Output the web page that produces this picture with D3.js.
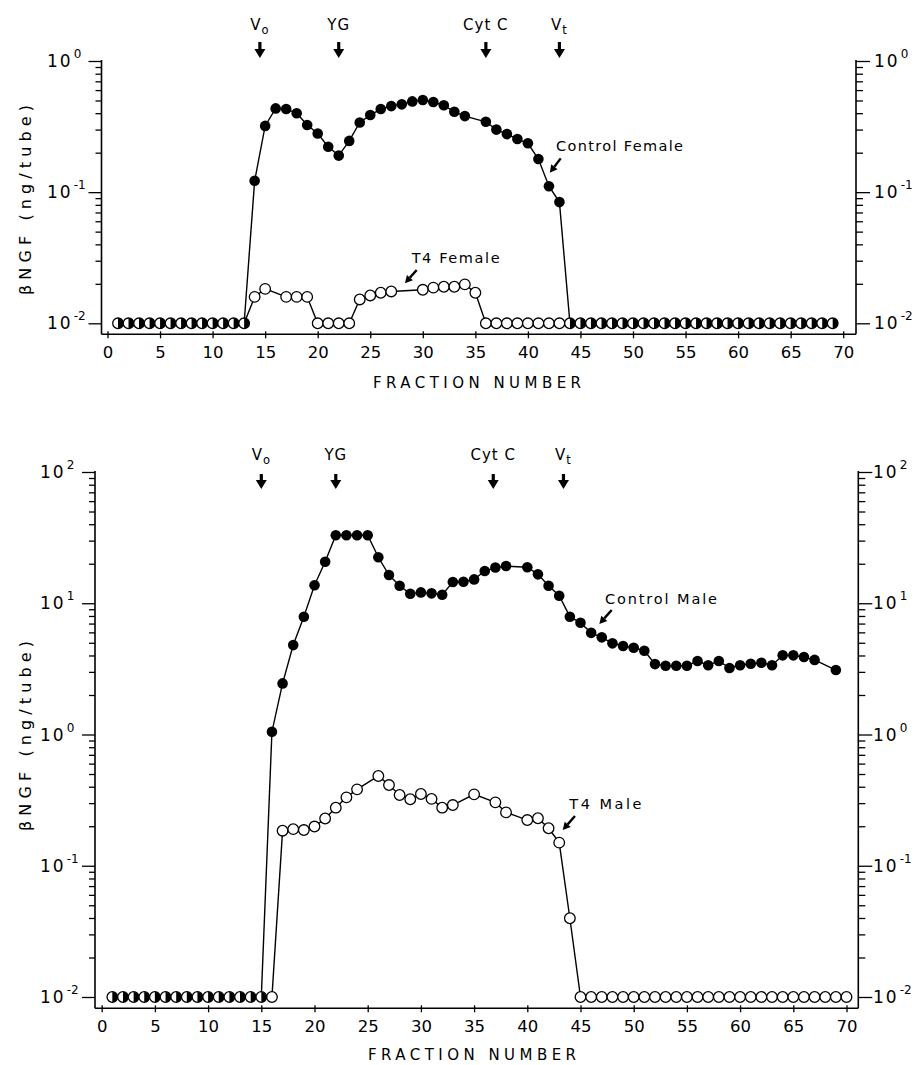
<!DOCTYPE html>
<html><head><meta charset="utf-8">
<script src="https://cdn.jsdelivr.net/npm/d3@7/dist/d3.min.js"></script>
<style>body{margin:0;background:#fff}svg{display:block}</style>
</head><body>
<svg id="c" width="923" height="1065"></svg>
<script>
// ---------------- DATA ----------------
const xTickValues = [0,5,10,15,20,25,30,35,40,45,50,55,60,65,70];

// Top panel (female)
const femaleYTicks = [0.01, 0.1, 1];
const femaleYTickExp = ["-2", "-1", "0"];
const femaleControlFractions = [1,2,3,4,5,6,7,8,9,10,11,12,13,14,15,16,17,18,19,20,21,22,23,24,25,26,27,28,29,30,31,32,33,34,36,37,38,39,40,41,42,43,44,45,46,47,48,49,50,51,52,53,54,55,56,57,58,59,60,61,62,63,64,65,66,67,68,69];
const femaleControlValues = [0.01,0.01,0.01,0.01,0.01,0.01,0.01,0.01,0.01,0.01,0.01,0.01,0.01,
  0.122,0.32,0.435,0.43,0.40,0.325,0.28,0.222,0.19,0.246,0.34,0.387,0.43,0.453,0.467,0.492,0.504,0.487,0.46,0.41,0.38,
  0.344,0.30,0.277,0.254,0.236,0.179,0.111,0.084,
  0.01,0.01,0.01,0.01,0.01,0.01,0.01,0.01,0.01,0.01,0.01,0.01,0.01,0.01,0.01,0.01,0.01,0.01,0.01,0.01,0.01,0.01,0.01,0.01,0.01,0.01];
const femaleT4Fractions = [1,2,3,4,5,6,7,8,9,10,11,12,13,14,15,17,18,19,20,21,22,23,24,25,26,27,30,31,32,33,34,35,36,37,38,39,40,41,42,43,44,45,46,47,48,49,50,51,52,53,54,55,56,57,58,59,60,61,62,63,64,65,66,67,68,69];
const femaleT4Values = [0.01,0.01,0.01,0.01,0.01,0.01,0.01,0.01,0.01,0.01,0.01,0.01,0.01,
  0.0159,0.0183,
  0.0159,0.0159,0.0159,0.01,0.01,0.01,0.01,0.0152,0.0163,0.0171,0.0175,
  0.018,0.0187,0.019,0.019,0.0198,0.0171,
  0.01,0.01,0.01,0.01,0.01,0.01,0.01,0.01,0.01,0.01,0.01,0.01,0.01,0.01,0.01,0.01,0.01,0.01,0.01,0.01,0.01,0.01,0.01,0.01,0.01,0.01,0.01,0.01,0.01,0.01,0.01,0.01,0.01,0.01];
const femaleMarkerFractions = [14.5, 22, 36, 43];

// Bottom panel (male)
const maleYTicks = [0.01, 0.1, 1, 10, 100];
const maleYTickExp = ["-2", "-1", "0", "1", "2"];
const maleControlFractions = [1,2,3,4,5,6,7,8,9,10,11,12,13,14,15,16,17,18,19,20,21,22,23,24,25,26,27,28,29,30,31,32,33,34,35,36,37,38,40,41,42,43,44,45,46,47,48,49,50,51,52,53,54,55,56,57,58,59,60,61,62,63,64,65,66,67,69];
const maleControlValues = [0.01,0.01,0.01,0.01,0.01,0.01,0.01,0.01,0.01,0.01,0.01,0.01,0.01,0.01,0.01,
  1.05,2.45,4.8,7.9,13.7,20.7,33,33,33,33,
  22.4,16.4,13.6,11.8,12.1,11.9,11.6,14.5,14.6,15.2,
  17.6,18.7,19.2,
  18.8,16.6,13.6,11.4,7.9,7.1,5.95,5.5,4.95,4.72,4.58,4.35,
  3.44,3.34,3.34,3.34,3.63,3.37,3.63,3.21,3.37,3.46,3.52,3.37,
  4.01,4.01,3.89,3.70,
  3.10];
const maleT4Fractions = [1,2,3,4,5,6,7,8,9,10,11,12,13,14,15,16,17,18,19,20,21,22,23,24,26,27,28,29,30,31,32,33,35,37,38,40,41,42,43,44,45,46,47,48,49,50,51,52,53,54,55,56,57,58,59,60,61,62,63,64,65,66,67,68,69,70];
const maleT4Values = [0.01,0.01,0.01,0.01,0.01,0.01,0.01,0.01,0.01,0.01,0.01,0.01,0.01,0.01,0.01,0.01,
  0.185,0.19,0.187,0.199,0.229,0.277,0.332,0.382,
  0.483,0.412,0.346,0.321,0.352,0.323,0.277,0.29,
  0.35,0.304,0.255,
  0.223,0.23,0.193,0.15,0.0398,
  0.01,0.01,0.01,0.01,0.01,0.01,0.01,0.01,0.01,0.01,0.01,0.01,0.01,0.01,0.01,0.01,0.01,0.01,0.01,0.01,0.01,0.01,0.01,0.01,0.01,0.01];
const maleMarkerFractions = [15, 22, 36.8, 43.4];

const markerLabels = [["V","o"],["YG",""],["Cyt C",""],["V","t"]];
const yTitle = "\u03B2NGF  (ng/tube)";
const xTitle = "FRACTION NUMBER";

// ---------------- DRAWING ----------------
const FONT = "'DejaVu Sans', sans-serif";
const svg = d3.select("#c");
svg.append("rect").attr("width",923).attr("height",1065).attr("fill","#fff");

function drawPanel(p) {
  const x = d3.scaleLinear().domain([0,70]).range([p.x0, p.x70]);
  const y = d3.scaleLog().domain([p.yTicks[0], p.yTicks[p.yTicks.length-1]]).range([p.yBot, p.yTop]);
  const g = svg.append("g");
  const yMaxPx = y(p.yTicks[p.yTicks.length-1]);

  // frame lines
  g.append("line").attr("x1",p.axL).attr("x2",p.axL).attr("y1",yMaxPx-1).attr("y2",p.axB).attr("stroke","#000").attr("stroke-width",1.6);
  g.append("line").attr("x1",p.axR).attr("x2",p.axR).attr("y1",yMaxPx-1).attr("y2",p.axB).attr("stroke","#000").attr("stroke-width",1.6);
  g.append("line").attr("x1",p.axL).attr("x2",p.axR).attr("y1",p.axB).attr("y2",p.axB).attr("stroke","#000").attr("stroke-width",1.6);

  // y ticks
  const minors = [];
  for (let i = 0; i < p.yTicks.length-1; i++) for (let k = 2; k <= 9; k++) minors.push(k*p.yTicks[i]);
  const styleAxis = s => { s.select(".domain").remove(); s.selectAll("line").attr("stroke-width",1.3); };
  g.append("g").attr("transform",`translate(${p.axL},0)`).call(d3.axisLeft(y).tickValues(p.yTicks).tickSize(13).tickFormat("")).call(styleAxis);
  g.append("g").attr("transform",`translate(${p.axL},0)`).call(d3.axisLeft(y).tickValues(minors).tickSize(6).tickFormat("")).call(styleAxis);
  g.append("g").attr("transform",`translate(${p.axR},0)`).call(d3.axisRight(y).tickValues(p.yTicks).tickSize(14).tickFormat("")).call(styleAxis);
  g.append("g").attr("transform",`translate(${p.axR},0)`).call(d3.axisRight(y).tickValues(minors).tickSize(7).tickFormat("")).call(styleAxis);

  // y tick labels (10 with superscript)
  p.yTicks.forEach((v,i) => {
    [[p.labL],[p.labR]].forEach(([lx]) => {
      const t = g.append("text").attr("x",lx).attr("y",y(v)+6).attr("font-family",FONT).attr("font-size",17).attr("fill","#000");
      t.append("tspan").text("10").attr("letter-spacing",2);
      t.append("tspan").text(p.yExp[i]).attr("font-size",12).attr("dy",-9).attr("dx",1);
    });
  });

  // x axis ticks + labels
  const xa = g.append("g").attr("transform",`translate(0,${p.axB})`)
    .call(d3.axisBottom(x).tickValues(xTickValues).tickSize(4).tickFormat(d => d));
  xa.select(".domain").remove();
  xa.selectAll("line").attr("y1",-3).attr("stroke-width",1.3);
  xa.selectAll("text").attr("y",24).attr("dy",null).attr("font-family",FONT).attr("font-size",16.5).attr("fill","#000");

  // titles
  g.append("text").attr("x",p.xTitleX).attr("y",p.axB+p.xTitleOff).attr("text-anchor","middle")
    .attr("font-family",FONT).attr("font-size",15).attr("textLength",208).attr("lengthAdjust","spacing").text(xTitle);
  g.append("text").attr("transform",`translate(${p.yTitleX},${p.yTitleY}) rotate(-90)`).attr("text-anchor","middle")
    .attr("font-family",FONT).attr("font-size",16).attr("textLength",190).attr("lengthAdjust","spacing").text(yTitle);

  // top arrows (Vo, YG, Cyt C, Vt)
  p.markers.forEach((f,i) => {
    const ax = x(f);
    const [main, sub] = markerLabels[i];
    const t = g.append("text").attr("x",ax).attr("y",p.mLabelY).attr("text-anchor","middle")
      .attr("font-family",FONT).attr("font-size",15).attr("letter-spacing",1);
    t.append("tspan").text(main);
    if (sub) t.append("tspan").text(sub).attr("font-size",11.5).attr("dy",4);
    g.append("line").attr("x1",ax).attr("x2",ax).attr("y1",p.arTop).attr("y2",p.arBot-7).attr("stroke","#000").attr("stroke-width",3.2);
    g.append("path").attr("d",`M${ax-5.5},${p.arBot-9}L${ax+5.5},${p.arBot-9}L${ax},${p.arBot}Z`).attr("fill","#000");
  });

  // series
  const line = d3.line().x(d => x(d[0])).y(d => y(d[1]));
  const ctrl = p.ctrlF.map((f,i) => [f, p.ctrlV[i]]);
  const t4 = p.t4F.map((f,i) => [f, p.t4V[i]]);
  [ctrl, t4].forEach(s => g.append("path").attr("d",line(s)).attr("fill","none").attr("stroke","#000").attr("stroke-width",1.4));

  const isShared = (f,v) => {
    const a = ctrl.find(d => d[0]===f), b = t4.find(d => d[0]===f);
    return a && b && a[1]===b[1];
  };
  const R = 5.3;
  t4.filter(d => !isShared(d[0],d[1])).forEach(d => {
    g.append("circle").attr("cx",x(d[0])).attr("cy",y(d[1])).attr("r",R).attr("fill","#fff").attr("stroke","#000").attr("stroke-width",1.3);
  });
  ctrl.filter(d => !isShared(d[0],d[1])).forEach(d => {
    g.append("circle").attr("cx",x(d[0])).attr("cy",y(d[1])).attr("r",R).attr("fill","#000");
  });
  ctrl.filter(d => isShared(d[0],d[1])).forEach(d => {
    const cx = x(d[0]), cy = y(d[1]);
    g.append("circle").attr("cx",cx).attr("cy",cy).attr("r",R).attr("fill","#fff").attr("stroke","#000").attr("stroke-width",1.3);
    g.append("path").attr("d",`M${cx},${cy-R}A${R},${R} 0 0 1 ${cx},${cy+R}Z`).attr("fill","#000");
  });

  // series annotations
  p.notes.forEach(n => {
    g.append("text").attr("x",x(n.tf)).attr("y",y(n.tv)).attr("font-family",FONT).attr("font-size",14.5)
      .attr("textLength",n.len).attr("lengthAdjust","spacing").text(n.text);
    const x1 = x(n.a[0]), y1 = y(n.a[1]), x2 = x(n.a[2]), y2 = y(n.a[3]);
    const ang = Math.atan2(y2-y1, x2-x1), L = 7.5, Wd = 4;
    const bx = x2 - L*Math.cos(ang), by = y2 - L*Math.sin(ang);
    g.append("line").attr("x1",x1).attr("y1",y1).attr("x2",bx).attr("y2",by).attr("stroke","#000").attr("stroke-width",2.4);
    g.append("path").attr("d",`M${x2},${y2}L${bx+Wd*Math.sin(ang)},${by-Wd*Math.cos(ang)}L${bx-Wd*Math.sin(ang)},${by+Wd*Math.cos(ang)}Z`).attr("fill","#000");
  });
}

drawPanel({
  x0:107.5, x70:843.2, yTop:61, yBot:323.3, yTicks:femaleYTicks, yExp:femaleYTickExp,
  axL:101.5, axR:856, axB:334.3, labL:47, labR:874,
  xTitleX:477, xTitleOff:54, yTitleX:31, yTitleY:200,
  markers:femaleMarkerFractions, mLabelY:30, arTop:42, arBot:58,
  ctrlF:femaleControlFractions, ctrlV:femaleControlValues, t4F:femaleT4Fractions, t4V:femaleT4Values,
  notes:[
    {text:"Control Female", tf:42.67, tv:0.207, len:127, a:[43.12,0.181,42.09,0.1406]},
    {text:"T4 Female", tf:28.94, tv:0.029, len:88, a:[29.42,0.0255,28.3,0.0202]}
  ]
});

drawPanel({
  x0:101.7, x70:846.5, yTop:472, yBot:997, yTicks:maleYTicks, yExp:maleYTickExp,
  axL:95, axR:858.3, axB:1008.3, labL:40, labR:873,
  xTitleX:472, xTitleOff:52, yTitleX:31, yTitleY:736,
  markers:maleMarkerFractions, mLabelY:460, arTop:474, arBot:489,
  ctrlF:maleControlFractions, ctrlV:maleControlValues, t4F:maleT4Fractions, t4V:maleT4Values,
  notes:[
    {text:"Control Male", tf:47.3, tv:9.82, len:112, a:[47.93,8.88,46.77,6.95]},
    {text:"T4 Male", tf:43.95, tv:0.269, len:72, a:[44.48,0.2393,43.33,0.1873]}
  ]
});
</script>
</body></html>
